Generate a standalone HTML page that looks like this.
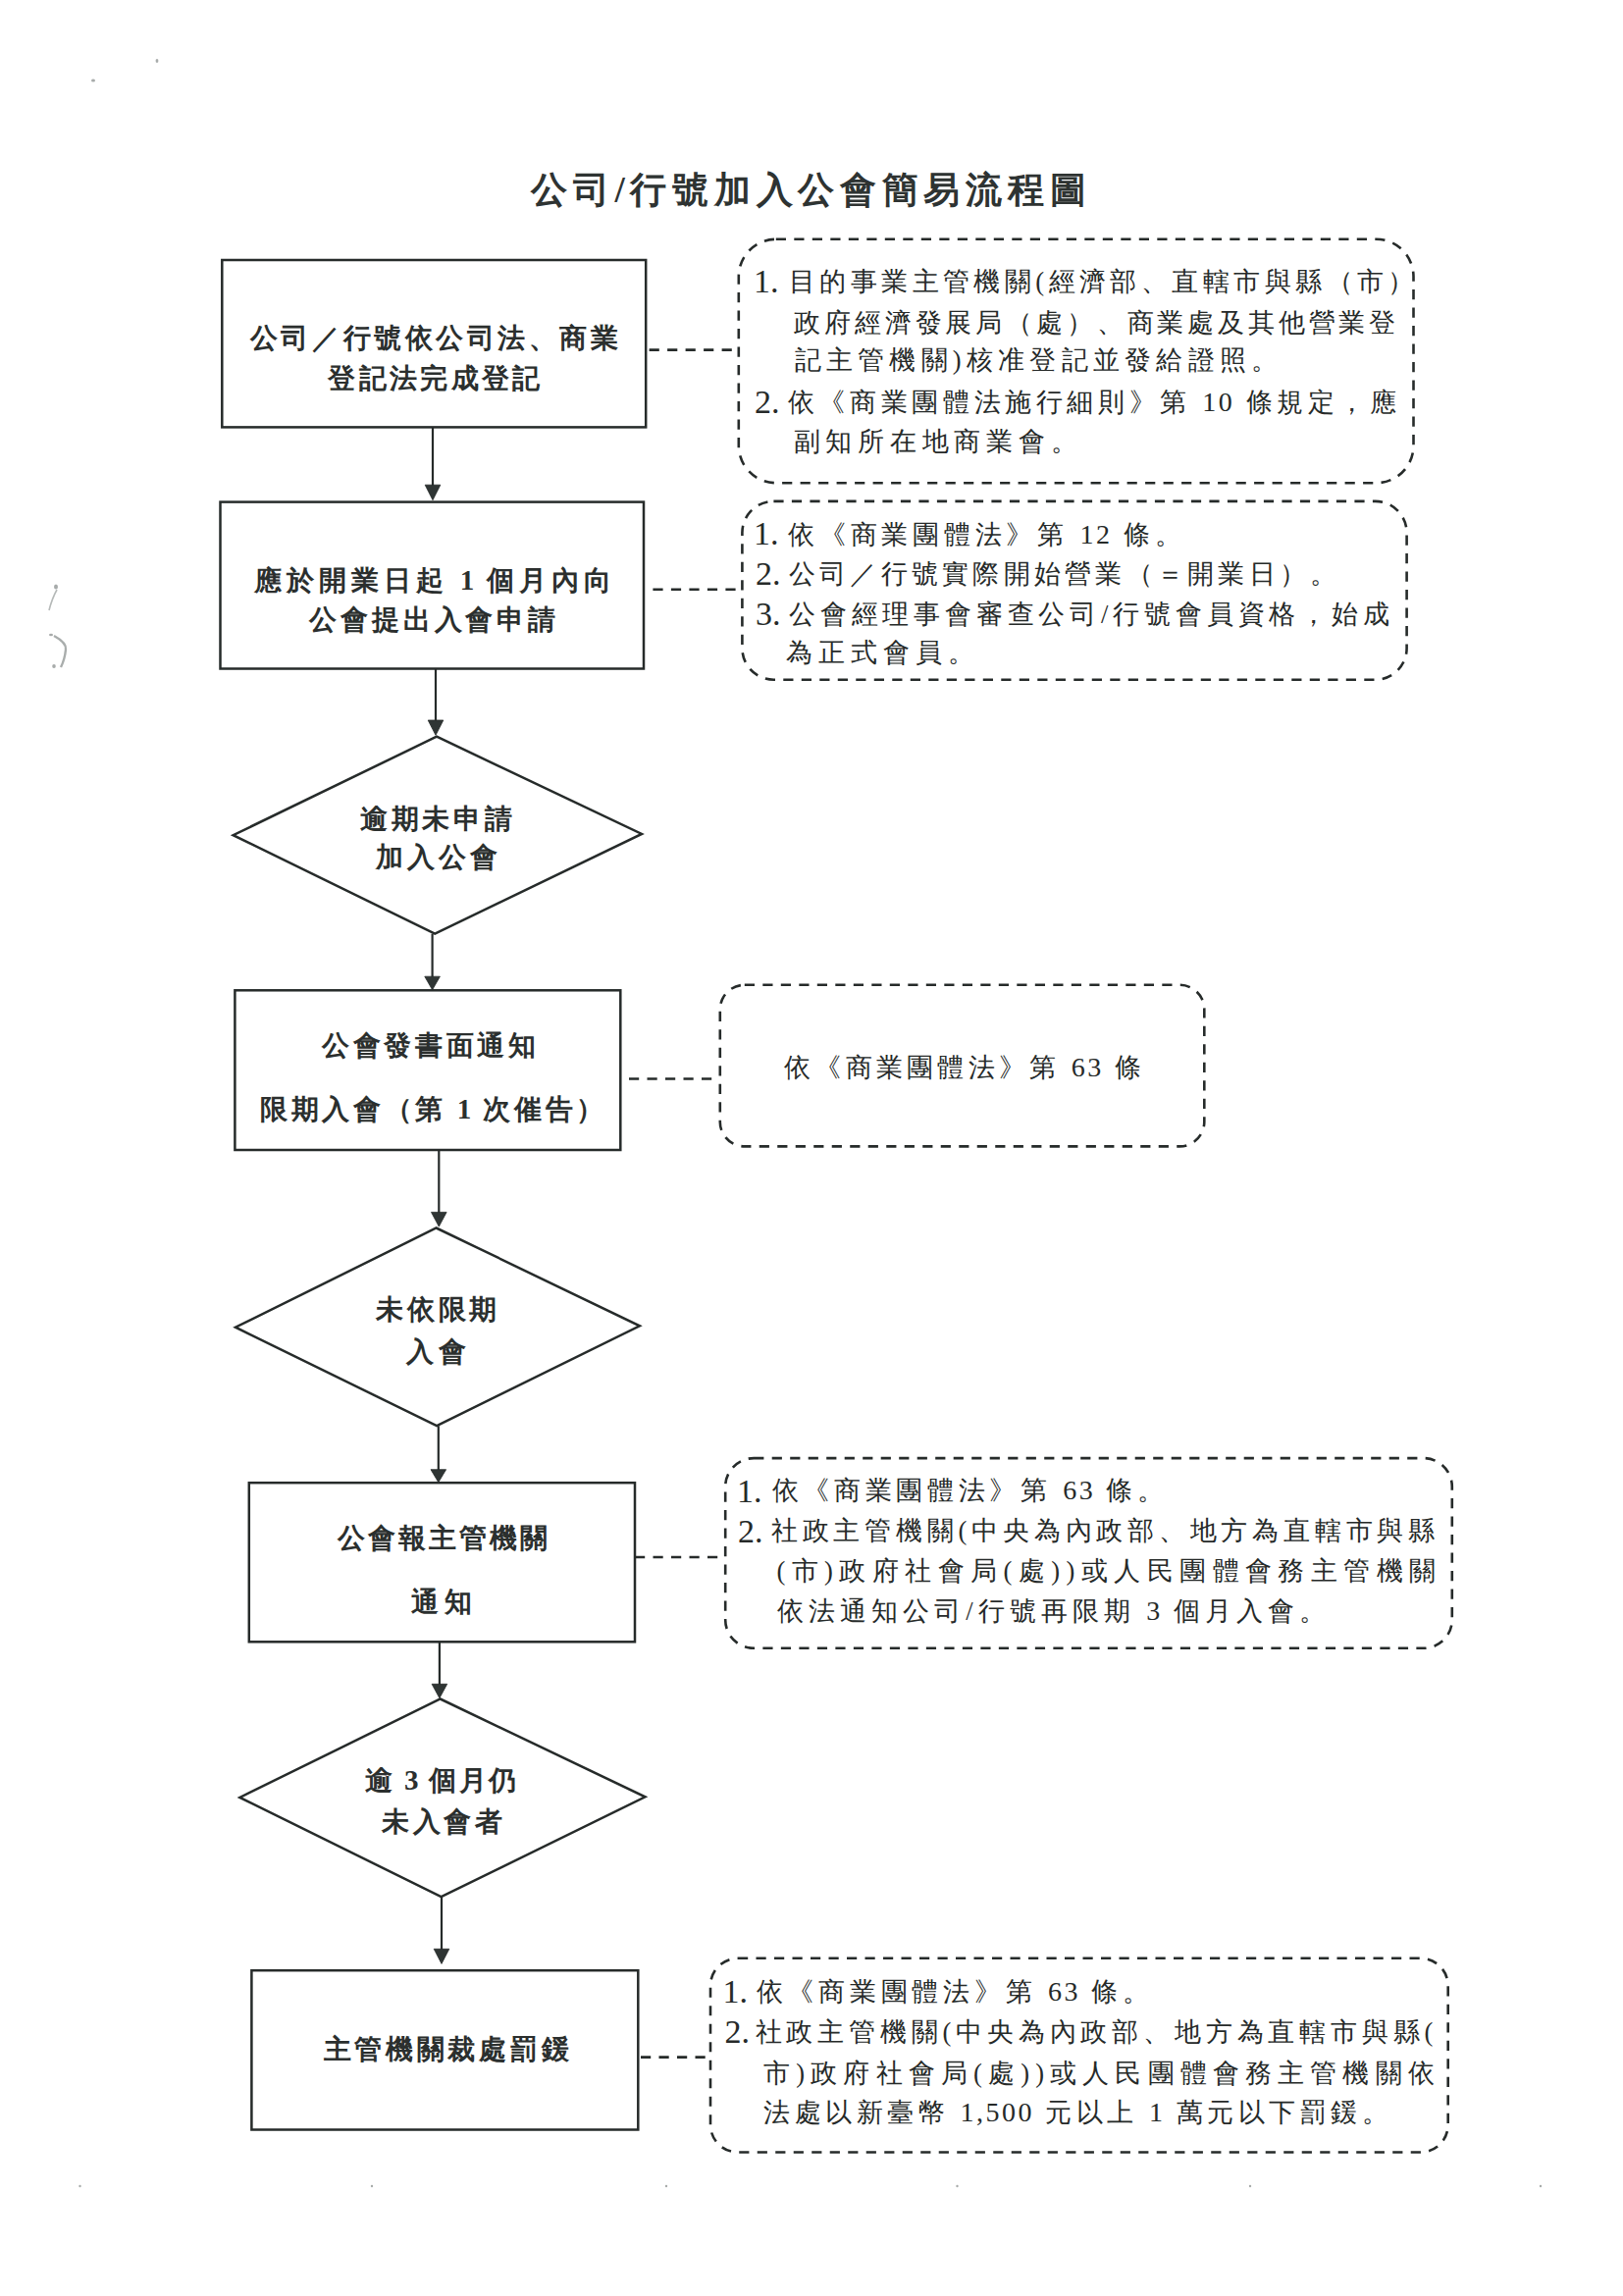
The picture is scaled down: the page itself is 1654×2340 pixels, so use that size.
<!DOCTYPE html>
<html lang="zh-Hant"><head><meta charset="utf-8"><title>公司/行號加入公會簡易流程圖</title>
<style>
html,body{margin:0;padding:0;background:#fff;}
body{width:1654px;height:2340px;position:relative;overflow:hidden;font-family:"Liberation Serif",serif;}
svg{position:absolute;left:0;top:0;}
.t{position:absolute;white-space:nowrap;}
.note .lat{font-size:28px;letter-spacing:2.5px;}
.box .lat{font-size:29px;letter-spacing:1px;}
.title{font-size:37px;line-height:55.5px;font-weight:bold;color:#2e3332;}
.box{font-size:28px;line-height:42.0px;font-weight:bold;color:#2b2f2e;}
.note{font-size:26.5px;line-height:39.75px;font-weight:normal;color:#262a29;}
.num{font-size:34px;line-height:51.0px;font-weight:normal;color:#262a29;}</style></head>
<body>
<svg width="1654" height="2340" viewBox="0 0 1654 2340">
<rect x="226.3" y="265" width="431.9" height="170.4" fill="none" stroke="#262b2a" stroke-width="2.5"/>
<rect x="224.5" y="511.6" width="431.5" height="169.9" fill="none" stroke="#262b2a" stroke-width="2.5"/>
<rect x="239.4" y="1009.3" width="392.9" height="162.7" fill="none" stroke="#262b2a" stroke-width="2.5"/>
<rect x="253.8" y="1511.2" width="393.2" height="162.1" fill="none" stroke="#262b2a" stroke-width="2.5"/>
<rect x="256.4" y="2008.2" width="393.9" height="162.3" fill="none" stroke="#262b2a" stroke-width="2.5"/>
<polygon points="445,750.7 654,849.9 443.2,951.7 237.6,851.2" fill="none" stroke="#262b2a" stroke-width="2.5" stroke-linejoin="miter"/>
<polygon points="444.6,1251.5 651.9,1351.3 445.1,1453.2 240,1352.7" fill="none" stroke="#262b2a" stroke-width="2.5" stroke-linejoin="miter"/>
<polygon points="448.7,1731.5 657.5,1831.3 449.6,1933.2 244.4,1831.9" fill="none" stroke="#262b2a" stroke-width="2.5" stroke-linejoin="miter"/>
<line x1="441" y1="436" x2="441" y2="495.2" stroke="#262b2a" stroke-width="2.2"/>
<polygon points="433.2,494.2 448.8,494.2 441,509.7" fill="#2f3534" stroke="#262b2a" stroke-width="0.8" stroke-linejoin="round"/>
<line x1="444" y1="681.5" x2="444" y2="735" stroke="#262b2a" stroke-width="2.2"/>
<polygon points="436.2,734 451.8,734 444,749.3" fill="#2f3534" stroke="#262b2a" stroke-width="0.8" stroke-linejoin="round"/>
<line x1="440.6" y1="951.7" x2="440.6" y2="996.2" stroke="#262b2a" stroke-width="2.2"/>
<polygon points="432.8,995.2 448.40000000000003,995.2 440.6,1008.8" fill="#2f3534" stroke="#262b2a" stroke-width="0.8" stroke-linejoin="round"/>
<line x1="447.3" y1="1172" x2="447.3" y2="1236.4" stroke="#262b2a" stroke-width="2.2"/>
<polygon points="439.5,1235.4 455.1,1235.4 447.3,1250.1" fill="#2f3534" stroke="#262b2a" stroke-width="0.8" stroke-linejoin="round"/>
<line x1="446.8" y1="1453.2" x2="446.8" y2="1498.7" stroke="#262b2a" stroke-width="2.2"/>
<polygon points="439.0,1497.7 454.6,1497.7 446.8,1510.7" fill="#2f3534" stroke="#262b2a" stroke-width="0.8" stroke-linejoin="round"/>
<line x1="447.9" y1="1673.3" x2="447.9" y2="1717.3" stroke="#262b2a" stroke-width="2.2"/>
<polygon points="440.09999999999997,1716.3 455.7,1716.3 447.9,1730.7" fill="#2f3534" stroke="#262b2a" stroke-width="0.8" stroke-linejoin="round"/>
<line x1="450" y1="1933.2" x2="450" y2="1987.3" stroke="#262b2a" stroke-width="2.2"/>
<polygon points="442.2,1986.3 457.8,1986.3 450,2001.4" fill="#2f3534" stroke="#262b2a" stroke-width="0.8" stroke-linejoin="round"/>
<rect x="752.8" y="243.8" width="687.7" height="248.4" rx="38" ry="38" fill="none" stroke="#262b2a" stroke-width="2.6" stroke-dasharray="10.2 8.3"/>
<rect x="756.4" y="510.9" width="677.2" height="181.8" rx="32" ry="32" fill="none" stroke="#262b2a" stroke-width="2.6" stroke-dasharray="10.2 8.3"/>
<rect x="733.8" y="1003.8" width="493.5" height="164.6" rx="25" ry="25" fill="none" stroke="#262b2a" stroke-width="2.6" stroke-dasharray="10.2 8.3"/>
<rect x="739.2" y="1486.1" width="740.6" height="193.7" rx="29" ry="29" fill="none" stroke="#262b2a" stroke-width="2.6" stroke-dasharray="10.2 8.3"/>
<rect x="724" y="1995.8" width="751.7" height="197.7" rx="28" ry="28" fill="none" stroke="#262b2a" stroke-width="2.6" stroke-dasharray="10.2 8.3"/>
<line x1="661.6" y1="356.6" x2="748" y2="356.6" stroke="#262b2a" stroke-width="2.6" stroke-dasharray="10.2 8.3"/>
<line x1="665.4" y1="600.8" x2="751" y2="600.8" stroke="#262b2a" stroke-width="2.6" stroke-dasharray="10.2 8.3"/>
<line x1="641" y1="1099.5" x2="727" y2="1099.5" stroke="#262b2a" stroke-width="2.6" stroke-dasharray="10.2 8.3"/>
<line x1="647" y1="1587" x2="734" y2="1587" stroke="#262b2a" stroke-width="2.6" stroke-dasharray="10.2 8.3"/>
<line x1="653" y1="2096.6" x2="720" y2="2096.6" stroke="#262b2a" stroke-width="2.6" stroke-dasharray="10.2 8.3"/>
<g fill="#8a8f8e" opacity="0.75">
<ellipse cx="95" cy="82" rx="2" ry="1.5"/><ellipse cx="160" cy="62" rx="1.4" ry="2"/>
<ellipse cx="57" cy="598" rx="2" ry="2.5"/>
<circle cx="81.5" cy="2228" r="1.2"/><circle cx="379" cy="2228" r="1.2"/><circle cx="679" cy="2228" r="1.2"/><circle cx="975.5" cy="2228" r="1.2"/><circle cx="1274" cy="2228" r="1.2"/><circle cx="1570" cy="2228" r="1.2"/><ellipse cx="52" cy="647" rx="2" ry="1.2"/><ellipse cx="55" cy="679" rx="1.8" ry="2"/>
</g>
<path d="M58,601 Q53,610 50,622" stroke="#b5b9b8" stroke-width="1.6" fill="none"/>
<path d="M55,648 Q68,655 67,662 Q66,672 62,680" stroke="#a9adac" stroke-width="2.4" fill="none"/>
</svg>
<div class="t title" id="T" style="left:541.0px;top:166.2px;letter-spacing:5.71px">公司/行號加入公會簡易流程圖</div>
<div class="t box" id="B1a" style="left:254.8px;top:323.5px;letter-spacing:3.57px">公司／行號依公司法、商業</div>
<div class="t box" id="B1b" style="left:334.2px;top:365.0px;letter-spacing:3.35px">登記法完成登記</div>
<div class="t box" id="B2a" style="left:259.2px;top:570.0px;letter-spacing:4.93px">應於開業日起 <span class="lat">1</span> 個月內向</div>
<div class="t box" id="B2b" style="left:315.4px;top:610.5px;letter-spacing:3.81px">公會提出入會申請</div>
<div class="t box" id="D1a" style="left:367.0px;top:814.0px;letter-spacing:3.70px">逾期未申請</div>
<div class="t box" id="D1b" style="left:383.0px;top:853.1px;letter-spacing:3.93px">加入公會</div>
<div class="t box" id="B3a" style="left:328.0px;top:1044.5px;letter-spacing:3.70px">公會發書面通知</div>
<div class="t box" id="B3b" style="left:264.8px;top:1108.9px;letter-spacing:3.72px">限期入會（第 <span class="lat">1</span> 次催告）</div>
<div class="t box" id="D2a" style="left:383.4px;top:1314.4px;letter-spacing:3.60px">未依限期</div>
<div class="t box" id="D2b" style="left:414.0px;top:1356.5px;letter-spacing:5.10px">入會</div>
<div class="t box" id="B4a" style="left:343.6px;top:1546.5px;letter-spacing:3.03px">公會報主管機關</div>
<div class="t box" id="B4b" style="left:419.4px;top:1612.0px;letter-spacing:5.80px">通知</div>
<div class="t box" id="D3a" style="left:372.0px;top:1792.5px;letter-spacing:2.50px">逾 <span class="lat">3</span> 個月仍</div>
<div class="t box" id="D3b" style="left:389.0px;top:1835.5px;letter-spacing:3.67px">未入會者</div>
<div class="t box" id="B5a" style="left:329.6px;top:2068.0px;letter-spacing:3.71px">主管機關裁處罰鍰</div>
<div class="t num" id="N1n1" style="left:768.0px;top:260.5px;letter-spacing:0.00px">1.</div>
<div class="t note" id="N1a" style="left:803.8px;top:268.1px;letter-spacing:4.44px">目的事業主管機關(經濟部、直轄市與縣（市）</div>
<div class="t note" id="N1b" style="left:809.2px;top:309.6px;letter-spacing:3.85px">政府經濟發展局（處）、商業處及其他營業登</div>
<div class="t note" id="N1c" style="left:809.6px;top:348.1px;letter-spacing:5.25px">記主管機關)核准登記並發給證照。</div>
<div class="t num" id="N1n2" style="left:769.0px;top:383.5px;letter-spacing:0.00px">2.</div>
<div class="t note" id="N1d" style="left:802.8px;top:390.1px;letter-spacing:4.63px">依《商業團體法施行細則》第 <span class="lat">10</span> 條規定，應</div>
<div class="t note" id="N1e" style="left:808.6px;top:431.3px;letter-spacing:5.74px">副知所在地商業會。</div>
<div class="t num" id="N2n1" style="left:768.0px;top:518.1px;letter-spacing:0.00px">1.</div>
<div class="t note" id="N2a" style="left:803.0px;top:524.7px;letter-spacing:4.78px">依《商業團體法》第 <span class="lat">12</span> 條。</div>
<div class="t num" id="N2n2" style="left:770.0px;top:558.5px;letter-spacing:0.00px">2.</div>
<div class="t note" id="N2b" style="left:804.0px;top:566.1px;letter-spacing:4.24px">公司／行號實際開始營業（＝開業日）。</div>
<div class="t num" id="N2n3" style="left:770.0px;top:599.5px;letter-spacing:0.00px">3.</div>
<div class="t note" id="N2c" style="left:804.0px;top:607.1px;letter-spacing:4.81px">公會經理事會審查公司/行號會員資格，始成</div>
<div class="t note" id="N2d" style="left:800.6px;top:646.3px;letter-spacing:6.18px">為正式會員。</div>
<div class="t note" id="N3a" style="left:799.0px;top:1068.1px;letter-spacing:4.30px">依《商業團體法》第 <span class="lat">63</span> 條</div>
<div class="t num" id="N4n1" style="left:751.0px;top:1493.7px;letter-spacing:0.00px">1.</div>
<div class="t note" id="N4a" style="left:786.8px;top:1499.3px;letter-spacing:4.67px">依《商業團體法》第 <span class="lat">63</span> 條。</div>
<div class="t num" id="N4n2" style="left:752.0px;top:1534.7px;letter-spacing:0.00px">2.</div>
<div class="t note" id="N4b" style="left:785.8px;top:1541.3px;letter-spacing:4.79px">社政主管機關(中央為內政部、地方為直轄市與縣</div>
<div class="t note" id="N4c" style="left:791.4px;top:1581.8px;letter-spacing:6.44px">(市)政府社會局(處))或人民團體會務主管機關</div>
<div class="t note" id="N4d" style="left:792.4px;top:1622.1px;letter-spacing:4.98px">依法通知公司/行號再限期 <span class="lat">3</span> 個月入會。</div>
<div class="t num" id="N5n1" style="left:736.4px;top:2003.5px;letter-spacing:0.00px">1.</div>
<div class="t note" id="N5a" style="left:770.6px;top:2010.1px;letter-spacing:4.77px">依《商業團體法》第 <span class="lat">63</span> 條。</div>
<div class="t num" id="N5n2" style="left:738.4px;top:2044.5px;letter-spacing:0.00px">2.</div>
<div class="t note" id="N5b" style="left:769.6px;top:2052.1px;letter-spacing:4.82px">社政主管機關(中央為內政部、地方為直轄市與縣(</div>
<div class="t note" id="N5c" style="left:778.2px;top:2093.6px;letter-spacing:6.15px">市)政府社會局(處))或人民團體會務主管機關依</div>
<div class="t note" id="N5d" style="left:778.2px;top:2133.1px;letter-spacing:4.54px">法處以新臺幣 <span class="lat">1,500</span> 元以上 <span class="lat">1</span> 萬元以下罰鍰。</div>
</body></html>
